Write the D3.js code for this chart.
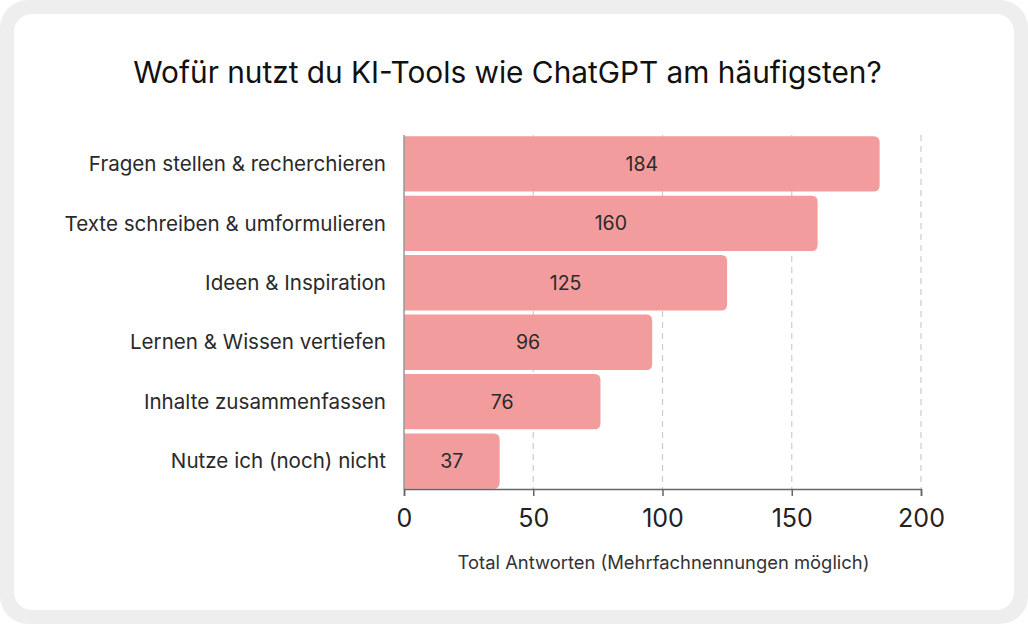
<!DOCTYPE html>
<html><head><meta charset="utf-8">
<script src="https://cdn.jsdelivr.net/npm/d3@7"></script>
<style>
html,body{margin:0;padding:0;background:#fff;}
svg{display:block;font-family:Inter, "Noto Sans", sans-serif;}
</style></head>
<body>
<svg id="c" width="1028" height="624"></svg>
<script>
const categories = ["Fragen stellen & recherchieren","Texte schreiben & umformulieren","Ideen & Inspiration","Lernen & Wissen vertiefen","Inhalte zusammenfassen","Nutze ich (noch) nicht"];
const values = [184,160,125,96,76,37];
const xTicks = [0,50,100,150,200];
const title = "Wofür nutzt du KI-Tools wie ChatGPT am häufigsten?";
const xTitle = "Total Antworten (Mehrfachnennungen möglich)";

const svg = d3.select("#c");
svg.append("rect").attr("x",0).attr("y",0).attr("width",1028).attr("height",624).attr("rx",28).attr("fill","#eeeeee");
svg.append("rect").attr("x",14).attr("y",14).attr("width",1000).attr("height",596).attr("rx",18).attr("fill","#ffffff");

svg.append("text").attr("x",507.5).attr("y",83).attr("text-anchor","middle")
  .attr("font-size",29.8).attr("fill","#111").text(title);

const x = d3.scaleLinear().domain([0,200]).range([404,921]);
const y = d3.scaleBand().domain(categories).range([135,490]).paddingInner(0.07).paddingOuter(0.02);

// grid
svg.append("g").selectAll("line").data(xTicks.filter(t=>t>0)).join("line")
  .attr("x1",d=>x(d)).attr("x2",d=>x(d)).attr("y1",135).attr("y2",489)
  .attr("stroke","#cccccc").attr("stroke-width",1.2).attr("stroke-dasharray","6,5");

// bars with rounded right corners
const r = 6;
svg.append("g").selectAll("path").data(values).join("path")
  .attr("d",(d,i)=>{
    const x0=x(0), x1=x(d), y0=y(categories[i]), h=y.bandwidth();
    return `M${x0},${y0}H${x1-r}Q${x1},${y0} ${x1},${y0+r}V${y0+h-r}Q${x1},${y0+h} ${x1-r},${y0+h}H${x0}Z`;
  })
  .attr("fill","#f29c9d");

svg.append("g").selectAll("text").data(values).join("text")
  .attr("x",d=>x(d/2)).attr("y",(d,i)=>y(categories[i])+y.bandwidth()/2)
  .attr("dy","0.35em").attr("text-anchor","middle").attr("font-size",19.5).attr("fill","#2a2a2a")
  .text(d=>d);

// category labels
svg.append("g").selectAll("text").data(categories).join("text")
  .attr("x",386).attr("y",d=>y(d)+y.bandwidth()/2).attr("dy","0.35em")
  .attr("text-anchor","end").attr("font-size",20.6).attr("fill","#2a2a2a").text(d=>d);

// y axis line
svg.append("line").attr("x1",404).attr("x2",404).attr("y1",135).attr("y2",489).attr("stroke","#999").attr("stroke-width",1.5);

// x axis
const ax = svg.append("g").attr("transform","translate(0,489)")
  .call(d3.axisBottom(x).tickValues(xTicks).tickSize(7).tickPadding(13).tickFormat(d3.format("d")));
ax.select(".domain").attr("stroke","#666").attr("stroke-width",1.5);
ax.selectAll(".tick line").attr("stroke","#666").attr("stroke-width",1.5);
ax.selectAll(".tick text").attr("font-size",25).attr("fill","#222").attr("font-family","Inter, sans-serif");

svg.append("text").attr("x",663.5).attr("y",569).attr("text-anchor","middle")
  .attr("font-size",18.4).attr("fill","#333").text(xTitle);
</script>
</body></html>
